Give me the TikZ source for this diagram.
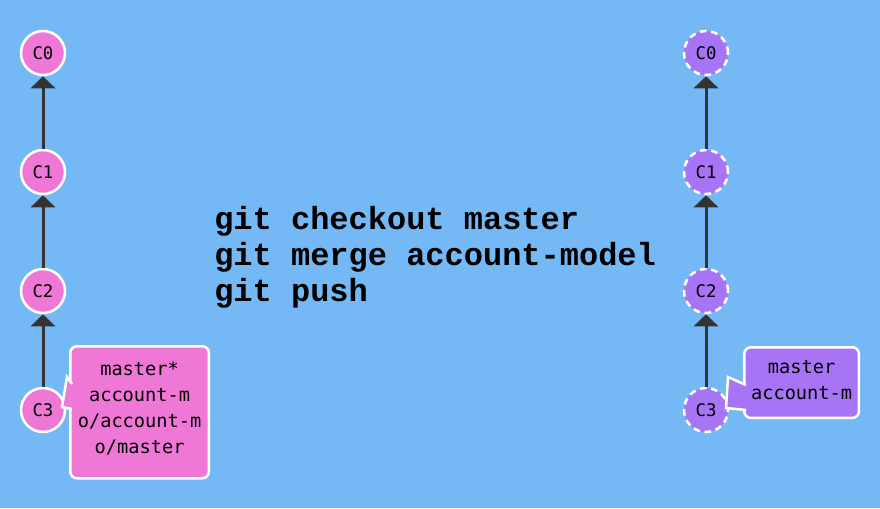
\documentclass[tikz,border=0pt]{standalone}
\usepackage{fontspec}
\usetikzlibrary{arrows.meta,positioning}
\newfontfamily\monofont{DejaVu Sans Mono}
\newfontfamily\cmdfont{Liberation Mono}
\definecolor{bgblue}{HTML}{74B9F6}
\definecolor{cpink}{HTML}{EF78D7}
\definecolor{cpurple}{HTML}{A874F6}
\definecolor{arrowgray}{HTML}{333333}
\tikzset{
  commit/.style={circle,minimum size=33pt,inner sep=0pt,line width=1.9pt,draw=white,
    font=\monofont\fontsize{13}{15}\selectfont},
  oldcommit/.style={commit,fill=cpink},
  newcommit/.style={commit,fill=cpurple,dash pattern=on 5pt off 3.5pt},
  parent/.style={draw=arrowgray,line width=2.25pt,-{Triangle[width=18pt,length=9pt]}},
  branchbox/.style={rectangle,rounded corners=5pt,draw=white,line width=1.9pt,align=center,
    inner sep=0pt,font=\monofont\fontsize{14}{19.7}\selectfont},
}
\begin{document}
\begin{tikzpicture}[x=0.75pt,y=-0.75pt]
\fill[bgblue] (0,0) rectangle (880,508);
% left: local history
\foreach \i/\y in {0/53,1/172,2/291,3/410} {
\node[oldcommit] (l\i) at (43,\y) {C\i};
}
\foreach \i/\j in {1/0,2/1,3/2} {
\draw[parent] (l\i) -- (l\j);
}
\node[branchbox,fill=cpink,anchor=north west,minimum width=104pt,minimum height=99pt,text depth=7pt] (lbranch) at (69,345)
  {master*\\account-m\\o/account-m\\o/master};
\filldraw[fill=cpink,draw=white,line width=1.9pt] (72,384) -- (67,377) -- (62,407) -- (72,409);
% right: after merge and push
\foreach \i/\y in {0/53,1/172,2/291,3/410} {
\node[newcommit] (r\i) at (706,\y) {C\i};
}
\foreach \i/\j in {1/0,2/1,3/2} {
\draw[parent] (r\i) -- (r\j);
}
\node[branchbox,fill=cpurple,anchor=north west,minimum width=86pt,minimum height=53pt,text depth=4pt] (rbranch) at (743,346)
  {master\\account-m};
\filldraw[fill=cpurple,draw=white,line width=1.9pt] (746,385) -- (728,377) -- (726,408) -- (746,410);
% commands
\node[anchor=west,align=left,inner sep=0pt,font=\cmdfont\bfseries\fontsize{24}{27}\selectfont] (cmds) at (214,257)
  {git checkout master\\git merge account-model\\git push};
\end{tikzpicture}
\end{document}
